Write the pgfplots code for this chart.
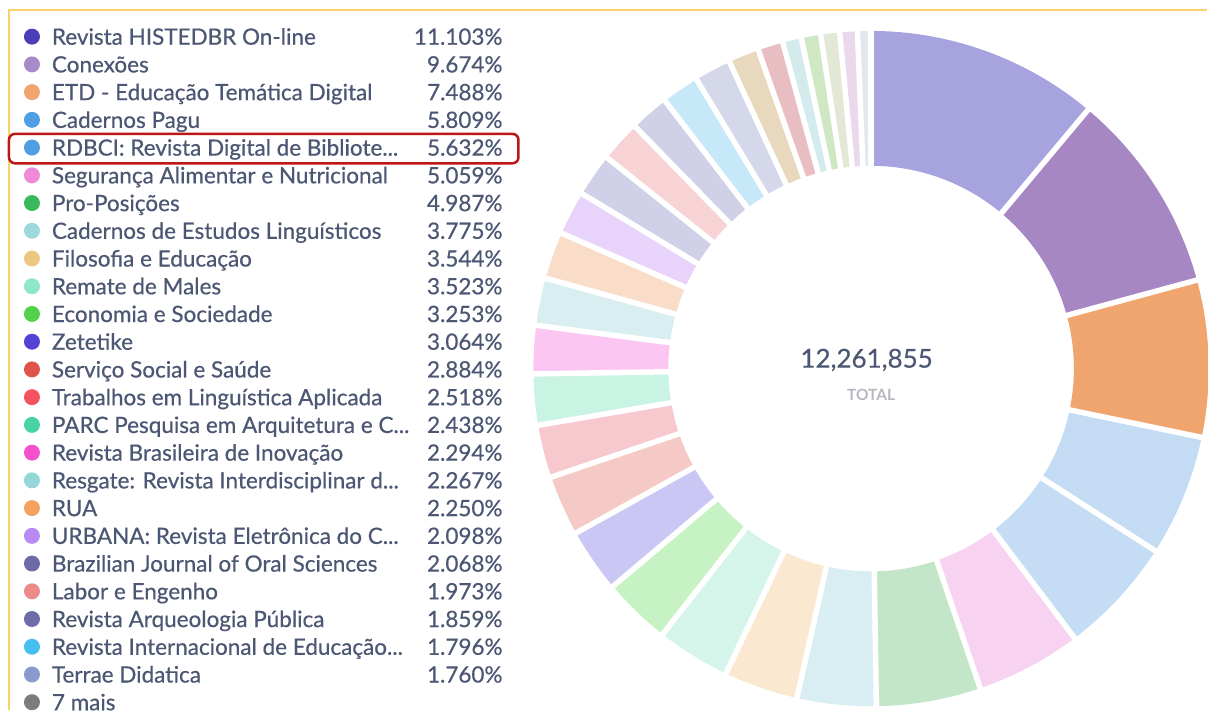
\documentclass[border=0pt]{standalone}
\usepackage{fontspec}
\setmainfont{Lato}
\newfontfamily\legfam{Lato}[FakeBold=0.5]
\usepackage{pgfplots}
\usepackage{pgfplotstable}
\pgfplotsset{compat=1.18}

\definecolor{txt}{HTML}{4C5773}
\definecolor{totalc}{HTML}{B5B8C0}
\definecolor{yel}{HTML}{F8D36A}
\definecolor{redbox}{HTML}{BC1616}
% slice colours
\definecolor{s0}{HTML}{A6A3DE}\definecolor{s1}{HTML}{A786C4}\definecolor{s2}{HTML}{F1A56E}
\definecolor{s3}{HTML}{C3DCF3}\definecolor{s4}{HTML}{C4DDF4}\definecolor{s5}{HTML}{F7D2F1}
\definecolor{s6}{HTML}{C3E6C8}\definecolor{s7}{HTML}{D8EEF3}\definecolor{s8}{HTML}{FBE8D0}
\definecolor{s9}{HTML}{D6F5EA}\definecolor{s10}{HTML}{C7F2C4}\definecolor{s11}{HTML}{CAC7F4}
\definecolor{s12}{HTML}{F5CAC6}\definecolor{s13}{HTML}{F7C8CD}\definecolor{s14}{HTML}{C9F3E3}
\definecolor{s15}{HTML}{FCC6F3}\definecolor{s16}{HTML}{D8EEF0}\definecolor{s17}{HTML}{FADDC8}
\definecolor{s18}{HTML}{E8D4FA}\definecolor{s19}{HTML}{D0D0E8}\definecolor{s20}{HTML}{F7D3D6}
\definecolor{s21}{HTML}{D0D0E7}\definecolor{s22}{HTML}{C7E8F8}\definecolor{s23}{HTML}{D5D8EA}
\definecolor{s24}{HTML}{E8D8BE}\definecolor{s25}{HTML}{E9BEC2}\definecolor{s26}{HTML}{D4EBEE}
\definecolor{s27}{HTML}{CFE8C3}\definecolor{s28}{HTML}{E2E8D5}\definecolor{s29}{HTML}{EAD8EC}
\definecolor{s30}{HTML}{E3E6EE}
% legend dot colours
\definecolor{d0}{HTML}{4B3FB8}\definecolor{d1}{HTML}{A88ACA}\definecolor{d2}{HTML}{F2A46E}
\definecolor{d3}{HTML}{509EE3}\definecolor{d4}{HTML}{509EE3}\definecolor{d5}{HTML}{F08AD8}
\definecolor{d6}{HTML}{3CB85C}\definecolor{d7}{HTML}{9CD9DA}\definecolor{d8}{HTML}{EDC780}
\definecolor{d9}{HTML}{8DE8C5}\definecolor{d10}{HTML}{52D14A}\definecolor{d11}{HTML}{5543D6}
\definecolor{d12}{HTML}{E0534A}\definecolor{d13}{HTML}{F2535E}\definecolor{d14}{HTML}{48D4A2}
\definecolor{d15}{HTML}{F452CC}\definecolor{d16}{HTML}{93D7D8}\definecolor{d17}{HTML}{F4A262}
\definecolor{d18}{HTML}{B98AF1}\definecolor{d19}{HTML}{6B6BA8}\definecolor{d20}{HTML}{EE8A88}
\definecolor{d21}{HTML}{6C6CA8}\definecolor{d22}{HTML}{45BEF0}\definecolor{d23}{HTML}{8A9ACC}
\definecolor{d24}{HTML}{7C7C7C}

\pgfplotstableread{
pct
11.103
9.674
7.488
5.809
5.632
5.059
4.987
3.775
3.544
3.523
3.253
3.064
2.884
2.518
2.438
2.294
2.267
2.250
2.098
2.068
1.973
1.859
1.796
1.760
1.467
1.208
0.897
0.923
0.906
0.837
0.647
}\slices

\newcommand\legfont{\legfam\fontsize{22.5bp}{26bp}\selectfont}
\newcommand\leg[3]{\addlegendimage{fill=#1}\addlegendentry{\makebox[451bp][l]{#2\hfill #3}}}

\begin{document}
\begin{tikzpicture}
\begin{axis}[
  x=1bp, y=1bp, xmin=0, xmax=1208, ymin=-711, ymax=0,
  hide axis, scale only axis, clip=false,
  legend image code/.code={\fill[#1, draw=none] (0bp,0bp) circle (8bp);},
  legend style={at={(0.019868,0.967904)}, anchor=north west, draw=none, fill=none,
    inner sep=0pt, outer sep=0pt, row sep=0pt, font=\legfont, text=txt,
    nodes={inner sep=0pt, outer sep=0pt, text height=21.93bp, text depth=5.83bp},
    /tikz/every odd column/.style={column sep=12bp},
    cells={anchor=west}},
]
\fill[white] (axis cs:0,-711) rectangle (axis cs:1208,0);

% donut slices
\xdef\cum{0}
\pgfplotsinvokeforeach{0,...,30}{
  \pgfplotstablegetelem{#1}{pct}\of\slices
  \pgfmathsetmacro{\aS}{90-3.6*\cum}
  \pgfmathsetmacro{\tmp}{\cum+\pgfplotsretval}\xdef\cum{\tmp}
  \pgfmathsetmacro{\aE}{90-3.6*\cum}
  \pgfmathsetmacro{\xo}{872+338*cos(\aS)}
  \pgfmathsetmacro{\yo}{-369+338*sin(\aS)}
  \pgfmathsetmacro{\xin}{872+203*cos(\aE)}
  \pgfmathsetmacro{\yin}{-369+203*sin(\aE)}
  \edef\cmd{\noexpand\fill[s#1, overlay] (axis cs:\xo,\yo) arc[start angle=\aS, end angle=\aE, radius=338bp] -- (axis cs:\xin,\yin) arc[start angle=\aE, end angle=\aS, radius=203bp] -- cycle;}
  \cmd
}
% white gaps between slices
\xdef\cum{0}
\pgfplotsinvokeforeach{0,...,30}{
  \pgfplotstablegetelem{#1}{pct}\of\slices
  \pgfmathsetmacro{\aS}{90-3.6*\cum}
  \pgfmathsetmacro{\tmp}{\cum+\pgfplotsretval}\xdef\cum{\tmp}
  \pgfmathsetmacro{\xa}{872+195*cos(\aS)}
  \pgfmathsetmacro{\ya}{-369+195*sin(\aS)}
  \pgfmathsetmacro{\xb}{872+346*cos(\aS)}
  \pgfmathsetmacro{\yb}{-369+346*sin(\aS)}
  \edef\cmd{\noexpand\draw[white, line width=5.5bp, overlay] (axis cs:\xa,\ya) -- (axis cs:\xb,\yb);}
  \cmd
}

\node[anchor=base, font=\legfam\fontsize{26bp}{30bp}\selectfont, text=txt] at (axis cs:867.5,-368) {12,261,855};
\node[anchor=base, font=\bfseries\fontsize{15.5bp}{18bp}\selectfont, text=totalc] at (axis cs:872,-401) {TOTAL};

% frame and highlight
\draw[yel, line width=2.5bp] (axis cs:9,-711) -- (axis cs:9,-10) -- (axis cs:1208,-10);
\draw[redbox, line width=2.5bp, rounded corners=6bp] (axis cs:9,-134) rectangle (axis cs:519,-163.5);

\leg{d0}{Revista HISTEDBR On-line}{11.103\%}
\leg{d1}{Conexões}{9.674\%}
\leg{d2}{ETD - Educação Temática Digital}{7.488\%}
\leg{d3}{Cadernos Pagu}{5.809\%}
\leg{d4}{RDBCI: Revista Digital de Bibliote...}{5.632\%}
\leg{d5}{Segurança Alimentar e Nutricional}{5.059\%}
\leg{d6}{Pro-Posições}{4.987\%}
\leg{d7}{Cadernos de Estudos Linguísticos}{3.775\%}
\leg{d8}{Filosofia e Educação}{3.544\%}
\leg{d9}{Remate de Males}{3.523\%}
\leg{d10}{Economia e Sociedade}{3.253\%}
\leg{d11}{Zetetike}{3.064\%}
\leg{d12}{Serviço Social e Saúde}{2.884\%}
\leg{d13}{Trabalhos em Linguística Aplicada}{2.518\%}
\leg{d14}{PARC Pesquisa em Arquitetura e C...}{2.438\%}
\leg{d15}{Revista Brasileira de Inovação}{2.294\%}
\leg{d16}{Resgate: Revista Interdisciplinar d...}{2.267\%}
\leg{d17}{RUA}{2.250\%}
\leg{d18}{URBANA: Revista Eletrônica do C...}{2.098\%}
\leg{d19}{Brazilian Journal of Oral Sciences}{2.068\%}
\leg{d20}{Labor e Engenho}{1.973\%}
\leg{d21}{Revista Arqueologia Pública}{1.859\%}
\leg{d22}{Revista Internacional de Educação...}{1.796\%}
\leg{d23}{Terrae Didatica}{1.760\%}
\leg{d24}{7 mais}{}
\end{axis}
\end{tikzpicture}
\end{document}
